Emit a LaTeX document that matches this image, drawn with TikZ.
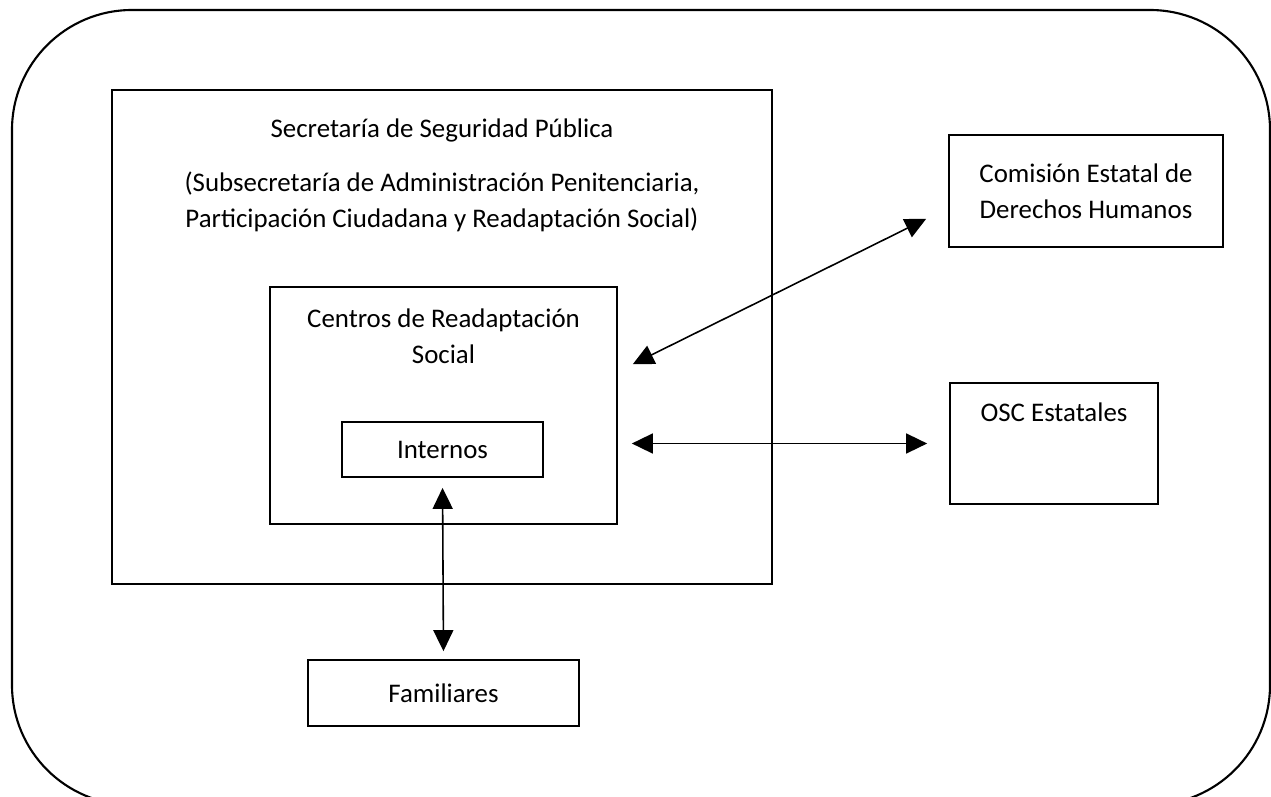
\documentclass[tikz,border=0pt]{standalone}
\usepackage{fontspec}
\setmainfont{Carlito}
\usepackage{tikz}
\usetikzlibrary{positioning}
\usetikzlibrary{arrows.meta}
\usetikzlibrary{calc}

\begin{document}
\begin{tikzpicture}[x=0.02cm, y=-0.02cm,
	box/.style={draw, line width=1pt, align=center, inner sep=0pt},
	txt/.style={align=center, inner sep=0pt},
	link/.style={line width=0.9pt, {Triangle[length=0.42cm, width=0.4cm]}-{Triangle[length=0.42cm, width=0.4cm]}},
	font=\fontsize{15.3}{20.5}\selectfont]
			% Fix the size of the picture
			\useasboundingbox (0,0) rectangle (1271,797);
			\clip (0,0) rectangle (1271,797);

			% Outer frame
			\draw[line width=1.2pt, rounded corners=2.4cm] (12,10) rectangle (1270,805);

			% Boxes
			\node[box, minimum width=13.2cm, minimum height=9.88cm] (ssp) at (442,337) {};
			\node[txt] (ssptit) at (442,130) {Secretaría de Seguridad Pública};
			\node[txt] (sspsub) at (442,202) {(Subsecretaría de Administración Penitenciaria,\\Participación Ciudadana y Readaptación Social)};

			\node[box, minimum width=6.94cm, minimum height=4.74cm] (cen) at (443.5,405.5) {};
			\node[txt] (centit) at (443.5,336) {Centros de Readaptación\\Social};

			\node[box, minimum width=4.02cm, minimum height=1.1cm] (int) at (442.5,449.5) {Internos};
			\node[box, minimum width=5.42cm, minimum height=1.32cm] (fam) at (443.5,693) {Familiares};

			\node[box, minimum width=5.48cm, minimum height=2.24cm] (com) at (1086,191) {Comisión Estatal de\\Derechos Humanos};

			\node[box, minimum width=4.16cm, minimum height=2.42cm] (osc) at (1054,443.5) {};
			\node[txt] (osctit) at (1054,412) {OSC Estatales};

			% Connectors
			\draw[link, shorten <=0.2cm, shorten >=0.16cm] (int.south) -- (fam.north);
			\draw[link, shorten <=0.28cm, shorten >=0.44cm] (cen.east |- osc.west) -- (osc.west);
			\draw[link] ($(cen.north east)+(15,78)$) -- ($(com.south west)+(-22,-29)$);
\end{tikzpicture}
\end{document}
